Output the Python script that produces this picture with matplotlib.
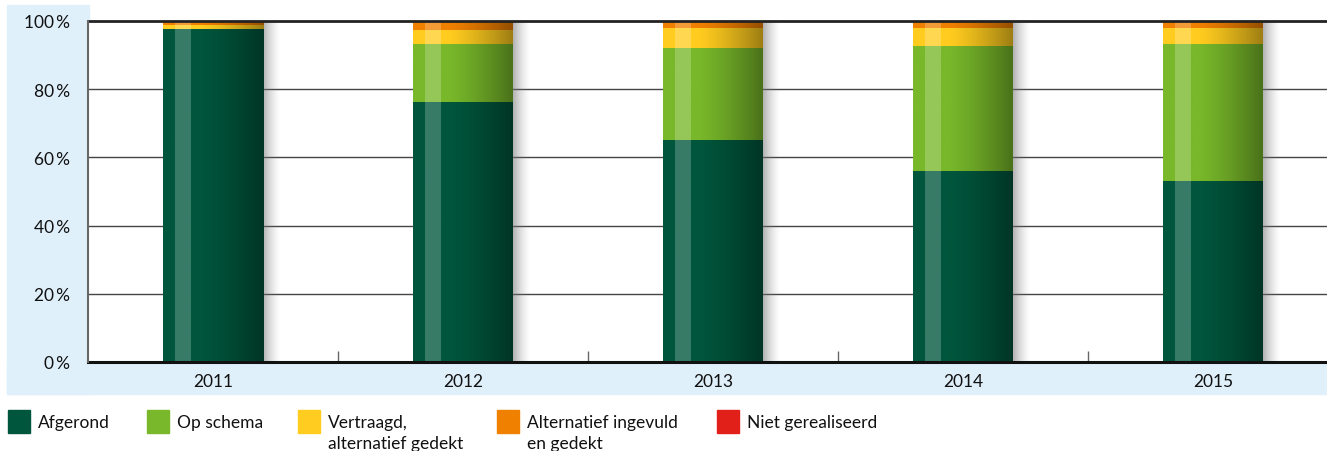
import numpy as np
import matplotlib
matplotlib.use("Agg")
import matplotlib.pyplot as plt
from matplotlib.patches import Rectangle

plt.rcParams['font.family'] = ['Lato', 'DejaVu Sans']

years = ['2011', '2012', '2013', '2014', '2015']
afgerond = [97.7, 76.2, 65.1, 56.0, 53.1]
op_schema = [0.0, 17.1, 27.0, 36.8, 40.2]
vertraagd = [1.0, 4.1, 5.8, 5.1, 4.6]
alternatief = [1.3, 2.6, 2.1, 2.1, 2.1]
niet = [0.0, 0.0, 0.0, 0.0, 0.0]

series = [afgerond, op_schema, vertraagd, alternatief, niet]
labels = ['Afgerond', 'Op schema', 'Vertraagd,\nalternatief gedekt',
          'Alternatief ingevuld\nen gedekt', 'Niet gerealiseerd']
colors = ['#00563c', '#78b82a', '#ffcc1f', '#f08000', '#e2201a']
yticks = [0, 20, 40, 60, 80, 100]

W, H = 1327, 452
fig = plt.figure(figsize=(W / 100, H / 100), dpi=100)

# light blue frame (left column + bottom band)
blue = '#dff0fb'
fig.patches.append(Rectangle((7 / W, (H - 395) / H), 82 / W, 389 / H,
                             transform=fig.transFigure, color=blue, zorder=-5))
fig.patches.append(Rectangle((7 / W, (H - 395) / H), 1320 / W, 32 / H,
                             transform=fig.transFigure, color=blue, zorder=-5))

ax = fig.add_axes([88 / W, (H - 363) / H, 1250 / W, 341 / H])
ax.set_zorder(2)
ax.set_facecolor('white')
x = np.arange(len(years))

for s in ax.spines.values():
    s.set_visible(False)

for v in yticks[1:-1]:
    ax.axhline(v, color='#444444', lw=1, zorder=1)
ax.axhline(100, color='#222222', lw=2, zorder=6, clip_on=False)
ax.axhline(0, color='#111111', lw=2.2, zorder=6, clip_on=False)
ax.axvline(-0.5, color='#666666', lw=1.5, zorder=6, clip_on=False)

width = 0.4
bottom = np.zeros(len(years))
ramp = np.linspace(0, 1, 64)
shade = np.where(ramp < 0.35, 1.0, 1.0 - 0.38 * ((ramp - 0.35) / 0.65) ** 1.3)

for vals, col in zip(series, colors):
    bars = ax.bar(x, vals, width, bottom=bottom, color=col, zorder=3, linewidth=0)
    rgb = np.array(matplotlib.colors.to_rgb(col))
    for b in bars:
        h = b.get_height()
        if h <= 0:
            continue
        x0, y0, w = b.get_x(), b.get_y(), b.get_width()
        img = (shade[:, None] * rgb[None, :])[None, :, :]
        ax.imshow(img, extent=[x0, x0 + w, y0, y0 + h], aspect='auto',
                  zorder=3.5, interpolation='bilinear')
        ax.add_patch(Rectangle((x0 + 0.12 * w, y0), 0.16 * w, h,
                               color='white', alpha=0.22, lw=0, zorder=4))
    bottom += np.array(vals)

# soft shadow to the right of each column
sh = np.zeros((1, 64, 4))
sh[0, :, :3] = 0.45
sh[0, :, 3] = 0.55 * (1 - np.linspace(0, 1, 64)) ** 1.5
for xi, tot in zip(x, bottom):
    ax.imshow(sh, extent=[xi + width / 2, xi + width / 2 + 0.07, 0, tot],
              aspect='auto', zorder=2, interpolation='bilinear')

ax.set_xlim(-0.5, len(years) - 0.5)
ax.set_ylim(0, 100)
ax.set_xticks(x)
ax.set_xticklabels(years, fontsize=12.5, color='#111111')
ax.tick_params(axis='x', which='major', length=0, pad=8)
ax.set_xticks(x[:-1] + 0.5, minor=True)
ax.tick_params(axis='x', which='minor', direction='in', length=8,
               width=1, color='#666666')
ax.set_yticks(yticks)
ax.set_yticklabels([f'{v}\u2009%' for v in yticks], fontsize=12.5, color='#111111')
ax.tick_params(axis='y', length=0, pad=13)

# legend
sq_x = [8, 147, 298, 497, 717]
for i, (lab, col) in enumerate(zip(labels, colors)):
    fig.patches.append(Rectangle((sq_x[i] / W, (H - 434) / H), 22 / W, 23 / H,
                                 transform=fig.transFigure, color=col))
    fig.text((sq_x[i] + 30) / W, (H - 415) / H, lab, fontsize=12.5,
             va='top', ha='left', color='#111111', linespacing=1.4)

fig.savefig('out.png', dpi=100)
